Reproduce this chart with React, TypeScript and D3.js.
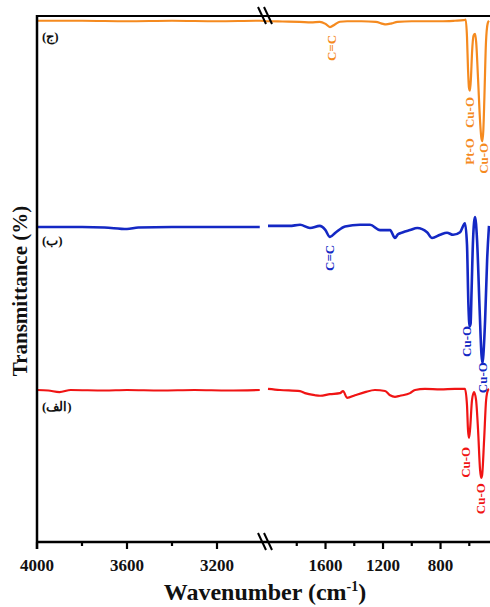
import { useEffect, useRef } from 'react';
import * as d3 from 'd3';

// [wavenumber (cm-1), transmittance (a.u. 0-100)]
type Pt = [number, number];

const leftTicks = [4000, 3600, 3200];
const leftMinor = [3800, 3400];
const rightTicks = [1600, 1200, 800];
const rightMinor = [1800, 1400, 1000, 600];

// (ج) top trace
const orangeLeft: Pt[] = [
  [4000, 99.1], [3800, 99.1], [3600, 99.0], [3400, 99.1], [3200, 99.0], [3010, 99.1],
];
const orangeRight: Pt[] = [
  [2000, 99.0], [1900, 98.95], [1780, 98.9], [1700, 98.8], [1640, 98.9], [1600, 98.5],
  [1569, 97.9], [1535, 98.4], [1500, 98.9], [1450, 99.0], [1350, 99.0], [1250, 98.9],
  [1200, 98.5], [1180, 98.4], [1140, 98.6], [1100, 98.9], [1000, 99.0], [900, 99.0],
  [800, 99.0], [700, 99.1], [640, 99.2], [625, 99.3], [616, 96.0], [609, 90.0],
  [602, 86.3], [595, 85.8], [588, 88.5], [581, 93.0], [570, 96.3], [560, 96.6],
  [552, 95.0], [539, 88.0], [525, 80.0], [516, 76.8], [509, 76.2], [502, 78.5],
  [495, 84.5], [484, 95.0], [472, 98.6], [463, 99.1],
];

// (ب) middle trace
const blueLeft: Pt[] = [
  [4000, 59.9], [3800, 59.9], [3700, 59.8], [3600, 59.5], [3550, 59.8], [3400, 59.9],
  [3200, 59.9], [3010, 59.9],
];
const blueRight: Pt[] = [
  [2000, 60.1], [1850, 60.1], [1777, 60.3], [1708, 59.7], [1640, 60.1], [1603, 59.4],
  [1569, 58.0], [1527, 58.9], [1464, 60.0], [1360, 60.3], [1290, 60.3], [1221, 59.3],
  [1151, 59.3], [1117, 57.8], [1096, 58.5], [1061, 58.9], [1012, 59.3], [962, 59.7],
  [894, 58.9], [859, 57.8], [803, 58.4], [755, 58.8], [713, 58.4], [664, 58.9],
  [630, 60.6], [616, 56.5], [606, 45.0], [598, 41.0], [591, 41.5], [584, 47.9],
  [574, 57.4], [560, 61.8], [546, 57.4], [528, 44.1], [515, 35.5], [508, 34.0],
  [501, 36.0], [490, 42.2], [476, 53.6], [463, 60.1],
];

// (الف) bottom trace
const redLeft: Pt[] = [
  [4000, 28.9], [3950, 28.8], [3900, 28.5], [3850, 28.9], [3700, 28.8], [3600, 28.9],
  [3450, 28.8], [3300, 28.9], [3150, 28.8], [3010, 28.9],
];
const redRight: Pt[] = [
  [2000, 29.1], [1917, 28.9], [1777, 28.7], [1743, 28.3], [1673, 27.9], [1638, 27.8],
  [1569, 28.1], [1499, 28.3], [1478, 28.7], [1450, 27.4], [1395, 27.9], [1325, 28.5],
  [1256, 28.9], [1186, 28.7], [1151, 27.9], [1117, 27.6], [1082, 27.8], [1012, 28.3],
  [977, 28.9], [908, 29.1], [800, 29.0], [700, 29.1], [630, 29.1], [616, 26.0],
  [609, 21.3], [602, 19.8], [595, 21.3], [581, 27.0], [567, 28.5], [553, 27.0],
  [539, 21.3], [525, 13.7], [518, 12.2], [511, 12.7], [497, 19.4], [483, 27.0],
  [470, 28.9], [463, 29.1],
];

const panelLabels = ['(ج)', '(ب)', '(الف)'];

// peak annotations: text, wavenumber, top of label (transmittance)
const orangeNotes: [string, number, number][] = [
  ['C=C', 1555, 96.4], ['Cu-O', 602, 84.6], ['Pt-O', 602, 76.8], ['Cu-O', 504, 75.9],
];
const blueNotes: [string, number, number][] = [
  ['C=C', 1569, 56.5], ['Cu-O', 616, 41.1], ['Cu-O', 508, 34.2],
];
const redNotes: [string, number, number][] = [
  ['Cu-O', 623, 18.1], ['Cu-O', 522, 11.2],
];

const ORANGE = '#f58a1f';
const BLUE = '#1428c4';
const RED = '#f01414';
const SERIF = '"Liberation Serif", "Times New Roman", serif';

export default function App() {
  const ref = useRef<SVGSVGElement>(null);

  useEffect(() => {
    if (!ref.current) return;
    const W = 490;
    const H = 607;
    const left = 37;
    const top = 16;
    const bottom = 542;

    const svg = d3.select(ref.current);
    svg.selectAll('*').remove();
    svg.attr('width', W).attr('height', H);

    // broken x axis: two linear segments
    const xL = d3.scaleLinear().domain([4000, 3000]).range([left, 262]);
    const xR = d3.scaleLinear().domain([2000, 456]).range([268, W]);
    const x = (w: number) => (w > 2500 ? xL(w) : xR(w));
    const y = d3.scaleLinear().domain([0, 100]).range([bottom, top]);

    const line = d3
      .line<Pt>()
      .x(d => x(d[0]))
      .y(d => y(d[1]))
      .curve(d3.curveMonotoneX);

    const plot = svg.append('g');

    const draw = (pts: Pt[], color: string, width: number) =>
      plot
        .append('path')
        .datum(pts)
        .attr('fill', 'none')
        .attr('stroke', color)
        .attr('stroke-width', width)
        .attr('stroke-linejoin', 'round')
        .attr('d', line);

    draw([...orangeLeft, ...orangeRight], ORANGE, 2.2);
    draw(blueLeft, BLUE, 2.6);
    draw(blueRight, BLUE, 2.6);
    draw(redLeft, RED, 2.2);
    draw(redRight, RED, 2.2);

    // peak labels
    const notes = (list: [string, number, number][], color: string) => {
      list.forEach(([t, w, v]) => {
        plot
          .append('text')
          .attr('transform', `translate(${x(w)},${y(v)}) rotate(-90)`)
          .attr('text-anchor', 'end')
          .attr('dominant-baseline', 'central')
          .attr('font-family', SERIF)
          .attr('font-weight', 'bold')
          .attr('font-size', 13)
          .attr('fill', color)
          .text(t);
      });
    };
    notes(orangeNotes, ORANGE);
    notes(blueNotes, BLUE);
    notes(redNotes, RED);

    // panel labels
    const labelY = [41, 245, 411];
    panelLabels.forEach((t, i) => {
      plot
        .append('text')
        .attr('x', 42)
        .attr('y', labelY[i])
        .attr('font-family', SERIF)
        .attr('font-weight', 'bold')
        .attr('font-size', 13)
        .attr('fill', '#111')
        .text(t);
    });

    // frame: top line, left axis, bottom axis
    const frame = svg.append('g').attr('stroke', '#000');
    frame.append('line').attr('x1', left).attr('x2', W).attr('y1', top).attr('y2', top).attr('stroke-width', 2);
    frame.append('line').attr('x1', left).attr('x2', left).attr('y1', top - 1).attr('y2', bottom + 7).attr('stroke-width', 2.5);
    frame.append('line').attr('x1', left).attr('x2', W).attr('y1', bottom).attr('y2', bottom).attr('stroke-width', 2.5);

    const ticks = (vals: number[], len: number) =>
      vals.forEach(v => {
        frame
          .append('line')
          .attr('x1', x(v))
          .attr('x2', x(v))
          .attr('y1', bottom)
          .attr('y2', bottom + len)
          .attr('stroke-width', 2.2);
      });
    ticks([...leftTicks, ...rightTicks], 7);
    ticks([...leftMinor, ...rightMinor], 4);

    svg
      .append('g')
      .selectAll('text')
      .data([...leftTicks, ...rightTicks])
      .join('text')
      .attr('x', d => x(d))
      .attr('y', 571)
      .attr('text-anchor', 'middle')
      .attr('font-family', SERIF)
      .attr('font-weight', 'bold')
      .attr('font-size', 17)
      .attr('fill', '#111')
      .text(d => d);

    // break marks on top and bottom
    [top, bottom].forEach(yy => {
      [0, 6].forEach(off => {
        frame
          .append('line')
          .attr('x1', 258 + off)
          .attr('y1', yy - 9)
          .attr('x2', 266 + off)
          .attr('y2', yy + 8)
          .attr('stroke-width', 2);
      });
    });

    // axis titles
    const xt = svg
      .append('text')
      .attr('x', 265)
      .attr('y', 600)
      .attr('text-anchor', 'middle')
      .attr('font-family', SERIF)
      .attr('font-weight', 'bold')
      .attr('font-size', 24)
      .attr('fill', '#111');
    xt.append('tspan').text('Wavenumber (cm');
    xt.append('tspan').attr('dy', -9).attr('font-size', 14).text('-1');
    xt.append('tspan').attr('dy', 9).text(')');

    svg
      .append('text')
      .attr('transform', `translate(27,291) rotate(-90)`)
      .attr('text-anchor', 'middle')
      .attr('font-family', SERIF)
      .attr('font-weight', 'bold')
      .attr('font-size', 21)
      .attr('fill', '#111')
      .text('Transmittance (%)');
  }, []);

  return (
    <>
      <style>{'body{margin:0;overflow:hidden}'}</style>
      <svg ref={ref} style={{ display: 'block', background: '#fff' }} />
    </>
  );
}
